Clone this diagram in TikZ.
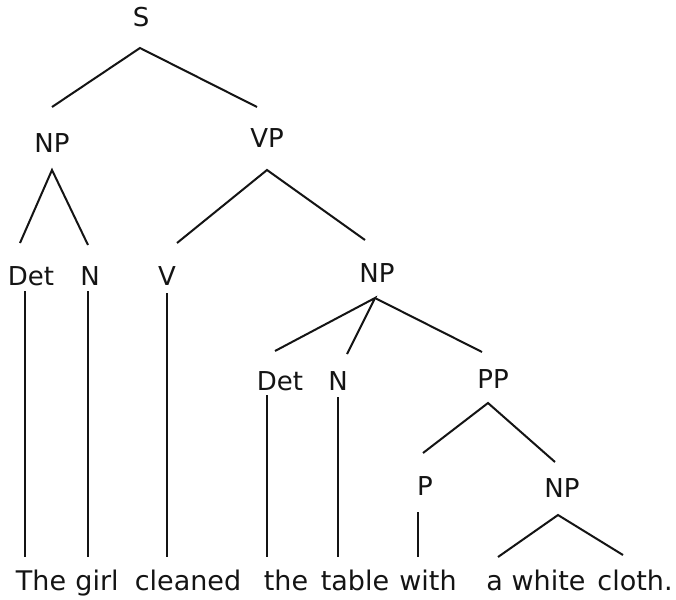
\documentclass[tikz,border=0pt]{standalone}
\usepackage{fontspec}
\setmainfont{DejaVu Sans}
\definecolor{ink}{HTML}{141414}
\begin{document}
\begin{tikzpicture}[x=1pt,y=-1pt,
  lab/.style={anchor=base,inner sep=0pt,text=ink,font=\fontsize{26}{30}\selectfont},
  word/.style={anchor=base,inner sep=0pt,text=ink,font=\fontsize{27}{32}\selectfont},
  edge/.style={draw=ink,line width=2pt}]
\useasboundingbox[fill=white] (0,0) rectangle (676,599);
% labels
\node[lab] (S) at (141,27) {S};
\node[lab] (NPa) at (52,152) {NP};
\node[lab] (VP) at (267,147) {VP};
\node[lab] (DetA) at (31,285) {Det};
\node[lab] (NA) at (90,285) {N};
\node[lab] (V) at (167,285) {V};
\node[lab] (NPb) at (377,282) {NP};
\node[lab] (DetB) at (280,390) {Det};
\node[lab] (NB) at (338,390) {N};
\node[lab] (PP) at (493,388) {PP};
\node[lab] (P) at (425,495) {P};
\node[lab] (NPc) at (562,497) {NP};
% words
\node[word] (w1) at (41,590) {The};
\node[word] (w2) at (97,590) {girl};
\node[word] (w3) at (188,590) {cleaned};
\node[word] (w4) at (286,590) {the};
\node[word] (w5) at (355,590) {table};
\node[word] (w6) at (428,590) {with};
\node[word] (w7) at (536,590) {a white};
\node[word] (w8) at (635,590) {cloth.};
% connector end points
\coordinate (S-d) at (140,48);
\coordinate (NPa-u) at (52,107);
\coordinate (VP-u) at (257,107);
\coordinate (NPa-d) at (52,170);
\coordinate (DetA-u) at (20,243);
\coordinate (NA-u) at (88,245);
\coordinate (VP-d) at (267,170);
\coordinate (V-u) at (177,243);
\coordinate (NPb-u) at (365,240);
\coordinate (NPb-d) at (375,298);
\coordinate (DetB-u) at (275,351);
\coordinate (NB-u) at (347,354);
\coordinate (PP-u) at (482,352);
\coordinate (PP-d) at (488,403);
\coordinate (P-u) at (423,453);
\coordinate (NPc-u) at (555,462);
\coordinate (NPc-d) at (558,515);
\coordinate (w7-u) at (498,557);
\coordinate (w8-u) at (623,555);
\coordinate (DetA-d) at (25,291);
\coordinate (w1-u) at (25,557);
\coordinate (NA-d) at (88,291);
\coordinate (w2-u) at (88,557);
\coordinate (V-d) at (167,293);
\coordinate (w3-u) at (167,557);
\coordinate (DetB-d) at (267,395);
\coordinate (w4-u) at (267,557);
\coordinate (NB-d) at (338,397);
\coordinate (w5-u) at (338,557);
\coordinate (P-d) at (418,512);
\coordinate (w6-u) at (418,557);
% connectors
\draw[edge] (NPa-u) -- (S-d) -- (VP-u);
\draw[edge] (DetA-u) -- (NPa-d) -- (NA-u);
\draw[edge] (V-u) -- (VP-d) -- (NPb-u);
\draw[edge] (DetB-u) -- (NPb-d) -- (NB-u);
\draw[edge] (NPb-d) -- (PP-u);
\draw[edge] (P-u) -- (PP-d) -- (NPc-u);
\draw[edge] (w7-u) -- (NPc-d) -- (w8-u);
\draw[edge] (DetA-d) -- (w1-u);
\draw[edge] (NA-d) -- (w2-u);
\draw[edge] (V-d) -- (w3-u);
\draw[edge] (DetB-d) -- (w4-u);
\draw[edge] (NB-d) -- (w5-u);
\draw[edge] (P-d) -- (w6-u);
\end{tikzpicture}
\end{document}
